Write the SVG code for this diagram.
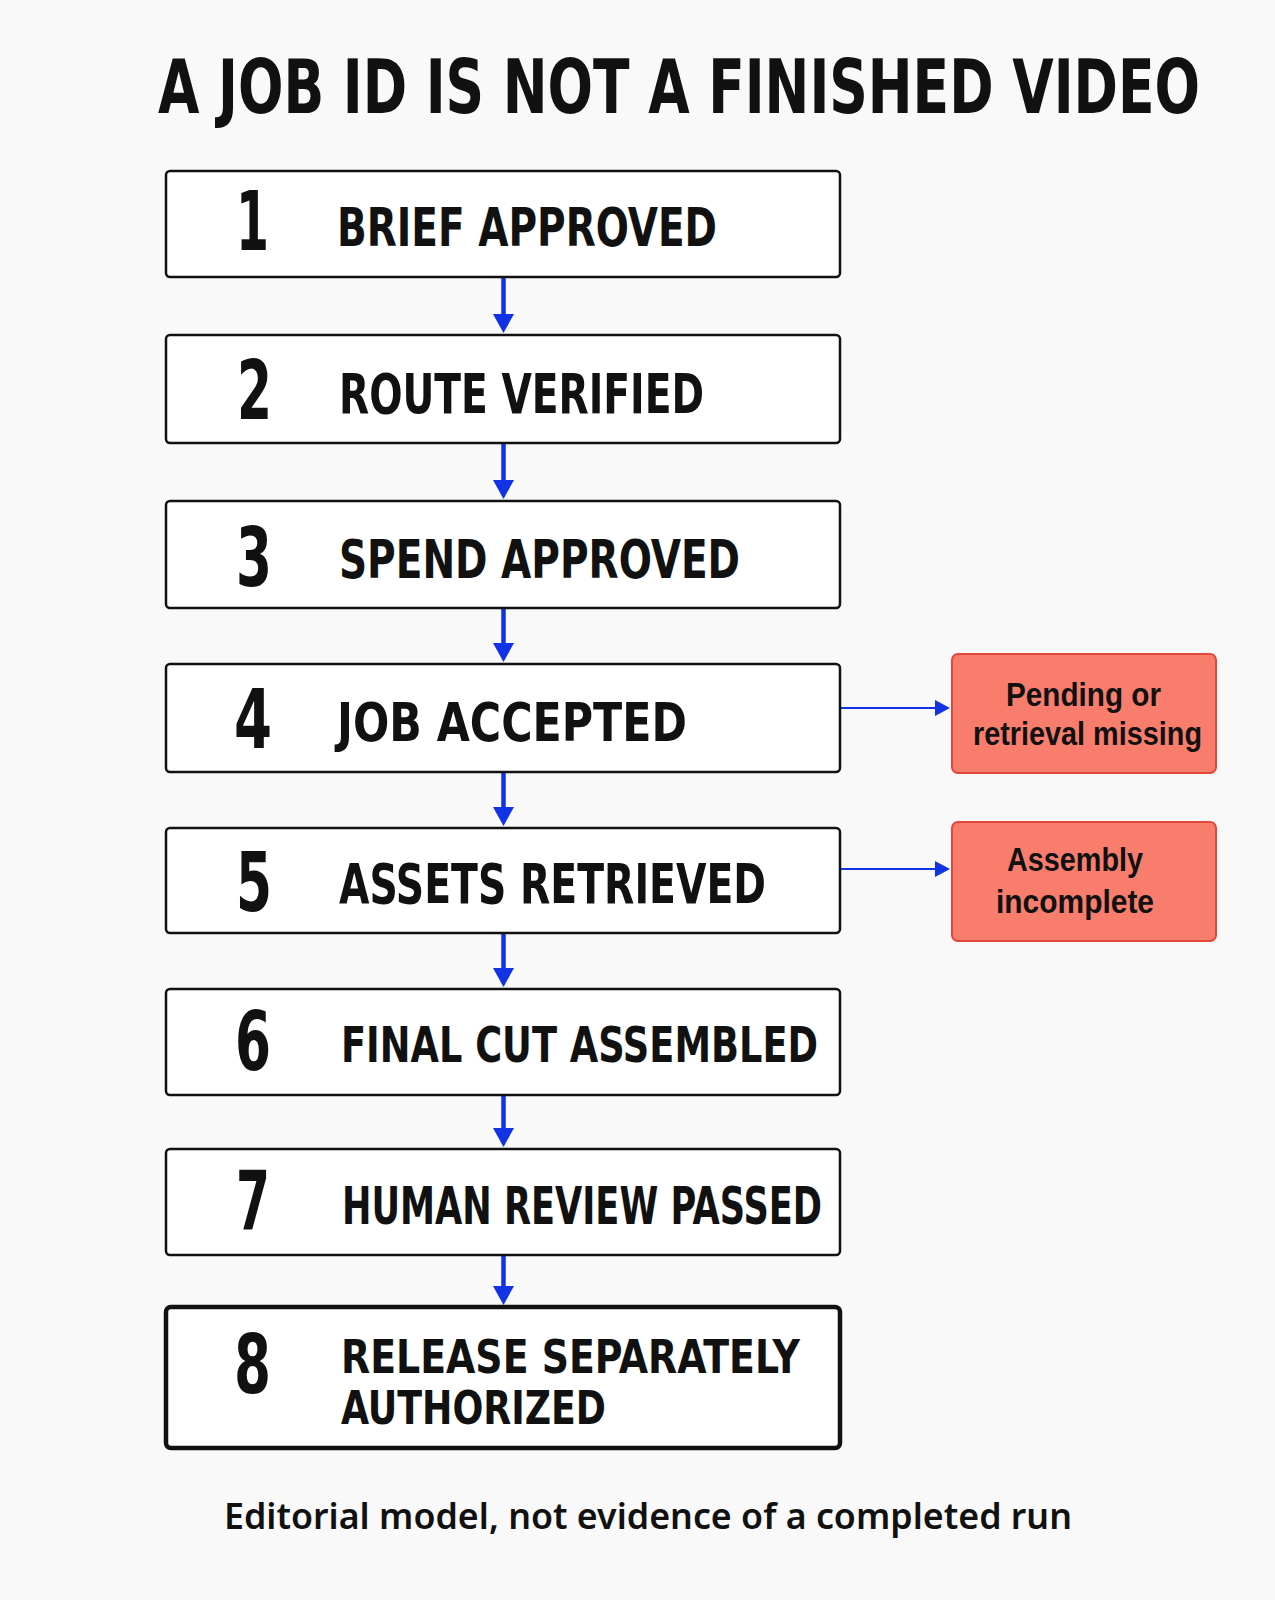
<svg xmlns="http://www.w3.org/2000/svg" width="1275" height="1600" viewBox="0 0 1275 1600">
<style>
.cond{font-family:"Liberation Sans Narrow","DejaVu Sans Condensed","Liberation Sans",sans-serif;font-weight:bold;fill:#111;font-stretch:condensed}
.step{fill:#fff;stroke:#111;stroke-width:2.5}
.step8{fill:#fff;stroke:#111;stroke-width:4.5}
.warn{fill:#F97D6D;stroke:#E4473A;stroke-width:2}
.wtxt{font-family:"Liberation Sans","Noto Sans",sans-serif;font-weight:bold;font-size:33px;fill:#111;text-anchor:middle}
.foot{font-family:"Noto Sans","Open Sans",sans-serif;font-weight:600;font-size:36px;fill:#111}
.num{font-size:82px}
.vl{stroke:#1232E6;stroke-width:4.5;fill:none}
.hl{stroke:#1232E6;stroke-width:2;fill:none}
.ah{fill:#1232E6}
</style>
<rect x="0" y="0" width="1275" height="1600" fill="#f9f9f9"/>
<text id="title" class="cond" x="158" y="113" font-size="74" textLength="1042" lengthAdjust="spacingAndGlyphs">A JOB ID IS NOT A FINISHED VIDEO</text>

<g id="connectors">
<line class="vl" x1="503.5" y1="278" x2="503.5" y2="318"/><polygon class="ah" points="493,314 514,314 503.5,333"/>
<line class="vl" x1="503.5" y1="444" x2="503.5" y2="484"/><polygon class="ah" points="493,480 514,480 503.5,499"/>
<line class="vl" x1="503.5" y1="609" x2="503.5" y2="647"/><polygon class="ah" points="493,643 514,643 503.5,662"/>
<line class="vl" x1="503.5" y1="773" x2="503.5" y2="811"/><polygon class="ah" points="493,807 514,807 503.5,826"/>
<line class="vl" x1="503.5" y1="934" x2="503.5" y2="972"/><polygon class="ah" points="493,968 514,968 503.5,987"/>
<line class="vl" x1="503.5" y1="1096" x2="503.5" y2="1132"/><polygon class="ah" points="493,1128 514,1128 503.5,1147"/>
<line class="vl" x1="503.5" y1="1256" x2="503.5" y2="1290"/><polygon class="ah" points="493,1286 514,1286 503.5,1305"/>
<line class="hl" x1="841" y1="708" x2="937" y2="708"/><polygon class="ah" points="935,700 950,708 935,716"/>
<line class="hl" x1="841" y1="869" x2="937" y2="869"/><polygon class="ah" points="935,861 950,869 935,877"/>
</g>

<g id="step1">
<rect class="step" x="166" y="171" width="674" height="106" rx="4"/>
<text class="cond num" x="236" y="250" textLength="33" lengthAdjust="spacingAndGlyphs">1</text>
<text class="cond" x="337" y="246" font-size="53" textLength="380" lengthAdjust="spacingAndGlyphs">BRIEF APPROVED</text>
</g>
<g id="step2">
<rect class="step" x="166" y="335" width="674" height="108" rx="4"/>
<text class="cond num" x="237" y="419" textLength="35" lengthAdjust="spacingAndGlyphs">2</text>
<text class="cond" x="339" y="413" font-size="56" textLength="365" lengthAdjust="spacingAndGlyphs">ROUTE VERIFIED</text>
</g>
<g id="step3">
<rect class="step" x="166" y="501" width="674" height="107" rx="4"/>
<text class="cond num" x="236" y="586" textLength="36" lengthAdjust="spacingAndGlyphs">3</text>
<text class="cond" x="339" y="578" font-size="53" textLength="401" lengthAdjust="spacingAndGlyphs">SPEND APPROVED</text>
</g>
<g id="step4">
<rect class="step" x="166" y="664" width="674" height="108" rx="4"/>
<text class="cond num" x="234" y="748" textLength="38" lengthAdjust="spacingAndGlyphs">4</text>
<text class="cond" x="337" y="741" font-size="53" textLength="350" lengthAdjust="spacingAndGlyphs">JOB ACCEPTED</text>
</g>
<g id="step5">
<rect class="step" x="166" y="828" width="674" height="105" rx="4"/>
<text class="cond num" x="236" y="911" textLength="36" lengthAdjust="spacingAndGlyphs">5</text>
<text class="cond" x="339" y="903" font-size="56" textLength="427" lengthAdjust="spacingAndGlyphs">ASSETS RETRIEVED</text>
</g>
<g id="step6">
<rect class="step" x="166" y="989" width="674" height="106" rx="4"/>
<text class="cond num" x="235" y="1070" textLength="36" lengthAdjust="spacingAndGlyphs">6</text>
<text class="cond" x="341" y="1062" font-size="50" textLength="477" lengthAdjust="spacingAndGlyphs">FINAL CUT ASSEMBLED</text>
</g>
<g id="step7">
<rect class="step" x="166" y="1149" width="674" height="106" rx="4"/>
<text class="cond num" x="236" y="1230" textLength="34" lengthAdjust="spacingAndGlyphs">7</text>
<text class="cond" x="342" y="1224" font-size="52" textLength="480" lengthAdjust="spacingAndGlyphs">HUMAN REVIEW PASSED</text>
</g>
<g id="step8">
<rect class="step8" x="166" y="1307" width="674" height="141" rx="5"/>
<text class="cond num" x="234" y="1393" textLength="37" lengthAdjust="spacingAndGlyphs">8</text>
<text class="cond" x="341" y="1373" font-size="47" textLength="459" lengthAdjust="spacingAndGlyphs">RELEASE SEPARATELY</text>
<text class="cond" x="341" y="1424" font-size="47" textLength="265" lengthAdjust="spacingAndGlyphs">AUTHORIZED</text>
</g>

<g id="warn1">
<rect class="warn" x="952" y="654" width="264" height="119" rx="6"/>
<text class="wtxt" x="1083.5" y="706" textLength="155" lengthAdjust="spacingAndGlyphs">Pending or</text>
<text class="wtxt" x="1087.5" y="745" textLength="229" lengthAdjust="spacingAndGlyphs">retrieval missing</text>
</g>
<g id="warn2">
<rect class="warn" x="952" y="822" width="264" height="119" rx="6"/>
<text class="wtxt" x="1075" y="871" textLength="136" lengthAdjust="spacingAndGlyphs">Assembly</text>
<text class="wtxt" x="1075" y="913" textLength="158" lengthAdjust="spacingAndGlyphs">incomplete</text>
</g>

<text id="footer" class="foot" x="224" y="1529" textLength="848" lengthAdjust="spacingAndGlyphs">Editorial model, not evidence of a completed run</text>
</svg>
